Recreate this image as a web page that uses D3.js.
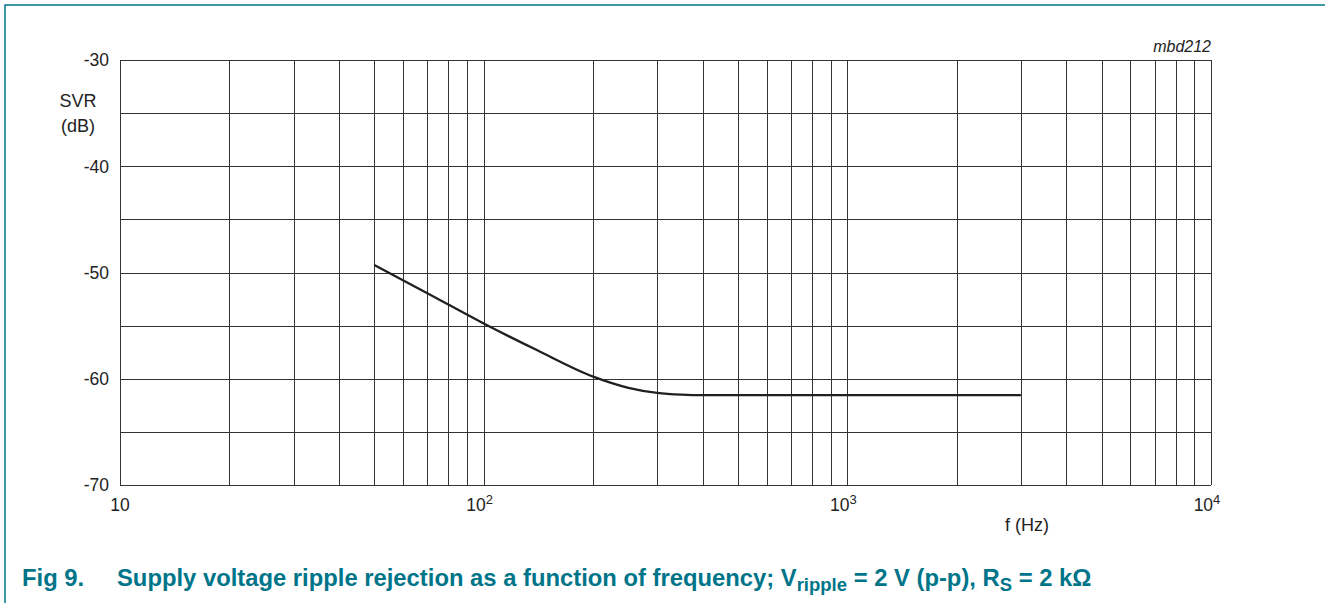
<!DOCTYPE html>
<html>
<head>
<meta charset="utf-8">
<script src="https://cdn.jsdelivr.net/npm/d3@7"></script>
<style>
  body { margin: 0; background: #fff; }
  svg { display: block; font-family: "Liberation Sans", Arial, sans-serif; }
</style>
</head>
<body>
<script>
// curve: frequency (Hz) and SVR (dB)
const freq = [50, 70, 100, 140, 200, 250, 300, 350, 400, 1000, 3000];
const svr  = [-49.3, -51.95, -54.8, -57.3, -59.8, -60.85, -61.33, -61.5, -61.55, -61.55, -61.55];

const yTicks = [-30, -40, -50, -60, -70];
const yGrid = [-30, -35, -40, -45, -50, -55, -60, -65, -70];
const xTicks = [{v: 10, base: "10", exp: ""}, {v: 100, base: "10", exp: "2"},
                {v: 1000, base: "10", exp: "3"}, {v: 10000, base: "10", exp: "4"}];

function draw() {
  const W = 1325, H = 603;
  const margin = {top: 60, right: 114, bottom: 118, left: 120};

  const svg = d3.select("body").append("svg")
    .attr("width", W)
    .attr("height", H);

  // teal frame, top and left only
  svg.append("path")
    .attr("d", "M5," + H + "V5H" + W)
    .attr("fill", "none")
    .attr("stroke", "#00758a")
    .attr("stroke-width", 1.5);

  const x = d3.scaleLog().domain([10, 10000]).range([margin.left, W - margin.right]);
  const y = d3.scaleLinear().domain([-70, -30]).range([H - margin.bottom, margin.top]);

  // vertical grid: 1..9 per decade
  const vLines = [];
  for (let d = 10; d < 10000; d *= 10) {
    for (let k = 1; k < 10; k++) vLines.push(d * k);
  }
  vLines.push(10000);

  const grid = svg.append("g").attr("stroke", "#333").attr("stroke-width", 1).attr("shape-rendering", "crispEdges");
  grid.selectAll(".v").data(vLines).enter().append("line")
    .attr("x1", d => Math.round(x(d)) + 0.5).attr("x2", d => Math.round(x(d)) + 0.5)
    .attr("y1", y(-30)).attr("y2", y(-70));
  grid.selectAll(".h").data(yGrid).enter().append("line")
    .attr("x1", x(10)).attr("x2", x(10000))
    .attr("y1", d => Math.round(y(d)) + 0.5).attr("y2", d => Math.round(y(d)) + 0.5);

  // y tick labels
  svg.append("g").selectAll("text").data(yTicks).enter().append("text")
    .attr("x", x(10) - 11)
    .attr("y", d => y(d))
    .attr("dy", "0.36em")
    .attr("text-anchor", "end")
    .attr("font-size", 17.5)
    .attr("fill", "#222")
    .text(d => d);

  // x tick labels with exponents
  const xl = svg.append("g").selectAll("text").data(xTicks).enter().append("text")
    .attr("x", d => x(d.v) + (d.exp ? -4 : 0))
    .attr("y", 511)
    .attr("text-anchor", "middle")
    .attr("font-size", 17.5)
    .attr("fill", "#222");
  xl.append("tspan").text(d => d.base);
  xl.append("tspan").attr("dy", -7).attr("font-size", 13).text(d => d.exp);

  // axis titles
  svg.append("text").attr("x", 78).attr("y", 107).attr("text-anchor", "middle")
    .attr("font-size", 18).attr("fill", "#222").text("SVR");
  svg.append("text").attr("x", 78).attr("y", 132).attr("text-anchor", "middle")
    .attr("font-size", 18).attr("fill", "#222").text("(dB)");
  svg.append("text").attr("x", 1027).attr("y", 531).attr("text-anchor", "middle")
    .attr("font-size", 18).attr("fill", "#222").text("f (Hz)");

  svg.append("text").attr("x", x(10000)).attr("y", 52).attr("text-anchor", "end")
    .attr("font-size", 16).attr("font-style", "italic").attr("fill", "#222").text("mbd212");

  // the curve
  const line = d3.line()
    .x(d => x(d[0]))
    .y(d => y(d[1]))
    .curve(d3.curveMonotoneX);
  svg.append("path")
    .datum(d3.zip(freq, svr))
    .attr("d", line)
    .attr("fill", "none")
    .attr("stroke", "#231f20")
    .attr("stroke-width", 2.3);

  // caption
  const cap = svg.append("text").attr("y", 586).attr("font-size", 23.8)
    .attr("font-weight", "bold").attr("fill", "#00758a");
  cap.append("tspan").attr("x", 22).text("Fig 9.");
  cap.append("tspan").attr("x", 117).text("Supply voltage ripple rejection as a function of frequency; V");
  cap.append("tspan").attr("font-size", 18.5).attr("dy", 5).text("ripple");
  cap.append("tspan").attr("dy", -5).text(" = 2 V (p-p), R");
  cap.append("tspan").attr("font-size", 18.5).attr("dy", 5).text("S");
  cap.append("tspan").attr("dy", -5).text(" = 2 k\u03A9");
}

window.onload = draw;
</script>
</body>
</html>
